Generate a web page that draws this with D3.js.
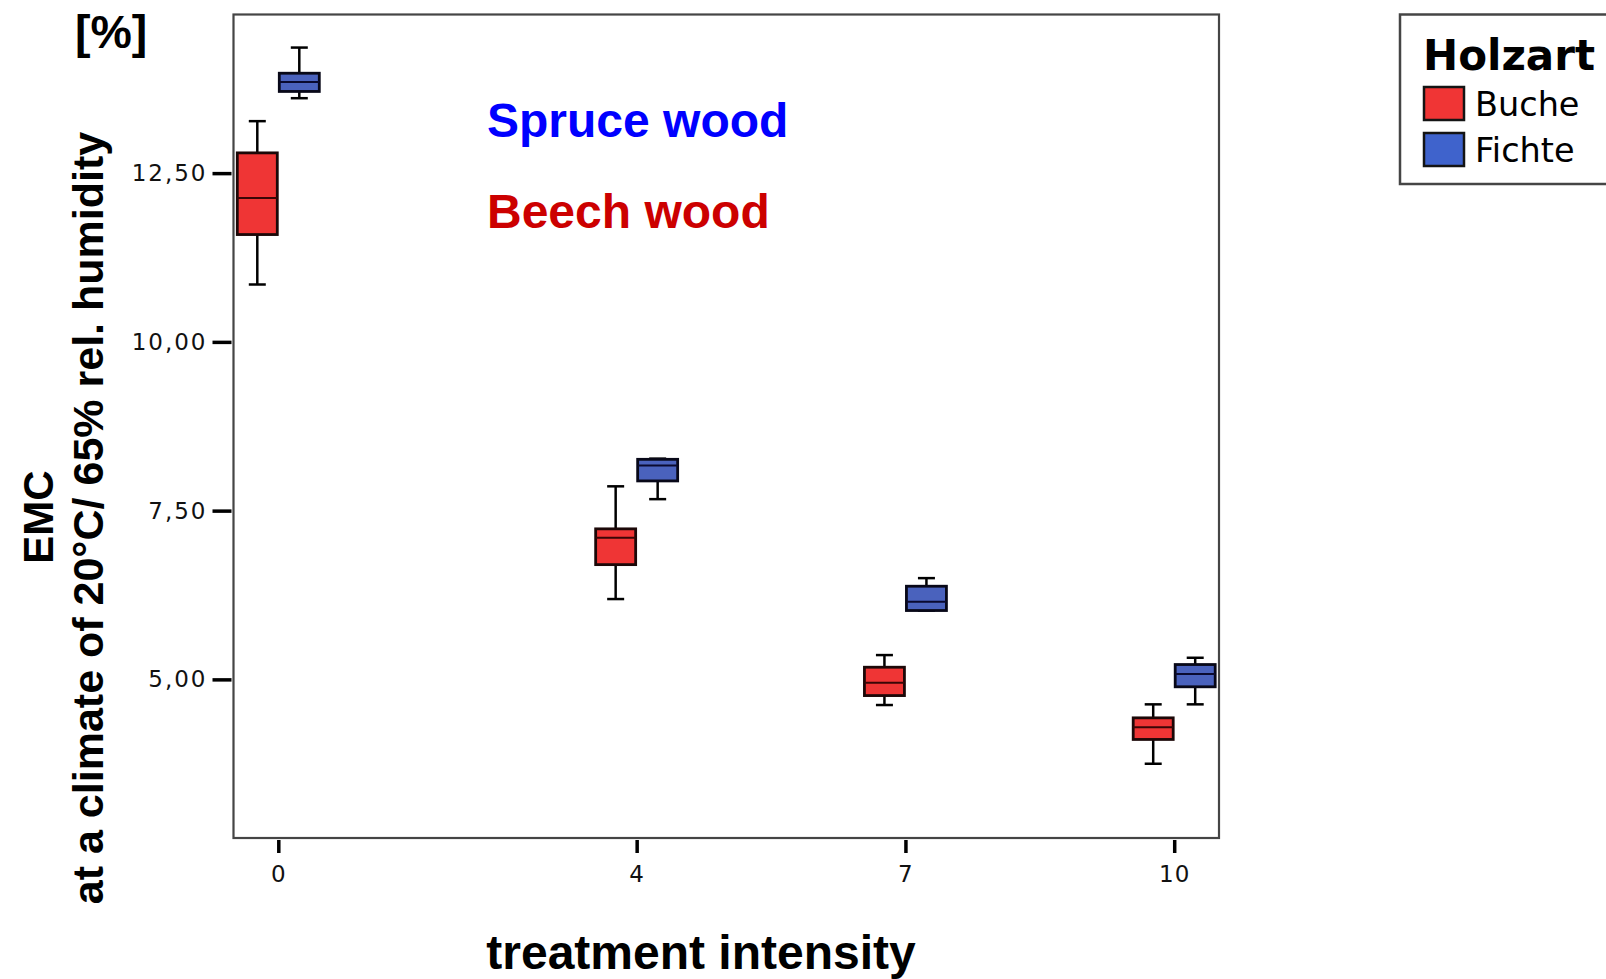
<!DOCTYPE html>
<html>
<head>
<meta charset="utf-8">
<script src="https://cdn.jsdelivr.net/npm/d3@7"></script>
<style>
  html, body { margin: 0; padding: 0; background: #fff; }
  svg { display: block; }
</style>
</head>
<body>
<svg id="chart" width="1606" height="979"></svg>
<script>
// Treatment intensities (x categories)
const intensities = [0, 4, 7, 10];

// Beech (Buche) box statistics per intensity, EMC in %
const beechMin    = [10.85, 6.19, 4.62, 3.75];
const beechQ1     = [11.59, 6.70, 4.76, 4.11];
const beechMedian = [12.13, 7.10, 4.95, 4.29];
const beechQ3     = [12.80, 7.23, 5.18, 4.43];
const beechMax    = [13.27, 7.86, 5.36, 4.63];

// Spruce (Fichte) box statistics per intensity, EMC in %
const spruceMin    = [13.61, 7.67, 6.02, 4.63];
const spruceQ1     = [13.71, 7.94, 6.02, 4.89];
const spruceMedian = [13.85, 8.17, 6.15, 5.08];
const spruceQ3     = [13.98, 8.26, 6.38, 5.22];
const spruceMax    = [14.36, 8.27, 6.50, 5.32];

// Axis ticks
const yTicks = [5, 7.5, 10, 12.5];
const xTicks = [0, 4, 7, 10];

const groups = [
  { name: "Buche", fill: "#ef3535", stroke: "#1c0808", median: "#3a0606", side: -1,
    min: beechMin, q1: beechQ1, med: beechMedian, q3: beechQ3, max: beechMax },
  { name: "Fichte", fill: "#4a62bd", stroke: "#080818", median: "#0a0a30", side: 1,
    min: spruceMin, q1: spruceQ1, med: spruceMedian, q3: spruceQ3, max: spruceMax }
];

const svg = d3.select("#chart");
const plot = { left: 233.5, right: 1219, top: 14.5, bottom: 838 };

const x = d3.scaleLinear().domain([-0.5, 10.5]).range([plot.left, plot.right]);
const y = d3.scaleLinear().domain([2.65, 14.85]).range([plot.bottom, plot.top]);

const boxW = 40, offset = 21, capW = 17;

// Plot frame
svg.append("rect")
  .attr("x", plot.left).attr("y", plot.top)
  .attr("width", plot.right - plot.left).attr("height", plot.bottom - plot.top)
  .attr("fill", "none").attr("stroke", "#454545").attr("stroke-width", 2.2);

// Y axis
const yAxis = svg.append("g")
  .attr("transform", `translate(${plot.left - 2},0)`)
  .call(d3.axisLeft(y).tickValues(yTicks).tickSize(19).tickPadding(5)
    .tickFormat(d => d3.format(".2f")(d).replace(".", ",")));
yAxis.select(".domain").remove();
yAxis.selectAll(".tick line").attr("stroke", "#000").attr("stroke-width", 3.5);
yAxis.selectAll(".tick text")
  .attr("font-family", "DejaVu Sans").attr("font-size", 23)
  .attr("letter-spacing", "2px").attr("fill", "#111");

// X axis
const xAxis = svg.append("g")
  .attr("transform", `translate(0,${plot.bottom + 2})`)
  .call(d3.axisBottom(x).tickValues(xTicks).tickSize(13).tickPadding(13)
    .tickFormat(d3.format("d")));
xAxis.select(".domain").remove();
xAxis.selectAll(".tick line").attr("stroke", "#000").attr("stroke-width", 3.5);
xAxis.selectAll(".tick text")
  .attr("font-family", "DejaVu Sans").attr("font-size", 23)
  .attr("letter-spacing", "1px").attr("fill", "#111");

// Box plots
groups.forEach(g => {
  const layer = svg.append("g");
  intensities.forEach((t, i) => {
    const cx = x(t) + g.side * offset;
    const box = layer.append("g");
    // whisker stems
    box.append("line")
      .attr("x1", cx).attr("x2", cx)
      .attr("y1", y(g.max[i])).attr("y2", y(g.q3[i]))
      .attr("stroke", "#000").attr("stroke-width", 2.5);
    box.append("line")
      .attr("x1", cx).attr("x2", cx)
      .attr("y1", y(g.q1[i])).attr("y2", y(g.min[i]))
      .attr("stroke", "#000").attr("stroke-width", 2.5);
    // whisker caps
    [g.max[i], g.min[i]].forEach(v => {
      box.append("line")
        .attr("x1", cx - capW / 2).attr("x2", cx + capW / 2)
        .attr("y1", y(v)).attr("y2", y(v))
        .attr("stroke", "#000").attr("stroke-width", 2.5);
    });
    // box
    box.append("rect")
      .attr("x", cx - boxW / 2).attr("y", y(g.q3[i]))
      .attr("width", boxW).attr("height", y(g.q1[i]) - y(g.q3[i]))
      .attr("fill", g.fill).attr("stroke", g.stroke).attr("stroke-width", 2.8);
    // median
    box.append("line")
      .attr("x1", cx - boxW / 2).attr("x2", cx + boxW / 2)
      .attr("y1", y(g.med[i])).attr("y2", y(g.med[i]))
      .attr("stroke", g.median).attr("stroke-width", 2);
  });
});

// Unit label
svg.append("text")
  .attr("x", 75).attr("y", 48)
  .attr("font-family", "Liberation Sans").attr("font-weight", "bold")
  .attr("font-size", 46.5).attr("fill", "#000")
  .text("[%]");

// Y axis title (two lines)
svg.append("text")
  .attr("transform", "translate(53,517) rotate(-90)")
  .attr("text-anchor", "middle")
  .attr("font-family", "Liberation Sans").attr("font-weight", "bold")
  .attr("font-size", 42).attr("fill", "#000")
  .text("EMC");
svg.append("text")
  .attr("transform", "translate(103,518) rotate(-90)")
  .attr("text-anchor", "middle")
  .attr("font-family", "Liberation Sans").attr("font-weight", "bold")
  .attr("font-size", 43).attr("fill", "#000")
  .text("at a climate of 20°C/ 65% rel. humidity");

// X axis title
svg.append("text")
  .attr("x", 701).attr("y", 969)
  .attr("text-anchor", "middle")
  .attr("font-family", "Liberation Sans").attr("font-weight", "bold")
  .attr("font-size", 48).attr("fill", "#000")
  .text("treatment intensity");

// In-plot annotations
svg.append("text")
  .attr("x", 487).attr("y", 137)
  .attr("font-family", "Liberation Sans").attr("font-weight", "bold")
  .attr("font-size", 48).attr("fill", "#0000ff")
  .text("Spruce wood");
svg.append("text")
  .attr("x", 487).attr("y", 228)
  .attr("font-family", "Liberation Sans").attr("font-weight", "bold")
  .attr("font-size", 48).attr("fill", "#cc0000")
  .text("Beech wood");

// Legend
const legend = svg.append("g");
legend.append("rect")
  .attr("x", 1400).attr("y", 14.5)
  .attr("width", 260).attr("height", 169.5)
  .attr("fill", "#fff").attr("stroke", "#454545").attr("stroke-width", 2.5);
legend.append("text")
  .attr("x", 1423).attr("y", 69.5)
  .attr("font-family", "DejaVu Sans").attr("font-weight", "bold")
  .attr("font-size", 42).attr("fill", "#000")
  .text("Holzart");
const legendFill = { Buche: "#f03535", Fichte: "#3f63cc" };
groups.forEach((g, i) => {
  const top = 87 + i * 46;
  legend.append("rect")
    .attr("x", 1424).attr("y", top)
    .attr("width", 40).attr("height", 33)
    .attr("fill", legendFill[g.name]).attr("stroke", "#141414").attr("stroke-width", 2.5);
  legend.append("text")
    .attr("x", 1475).attr("y", top + 29)
    .attr("font-family", "DejaVu Sans")
    .attr("font-size", 33.5).attr("fill", "#000")
    .text(g.name);
});
</script>
</body>
</html>
